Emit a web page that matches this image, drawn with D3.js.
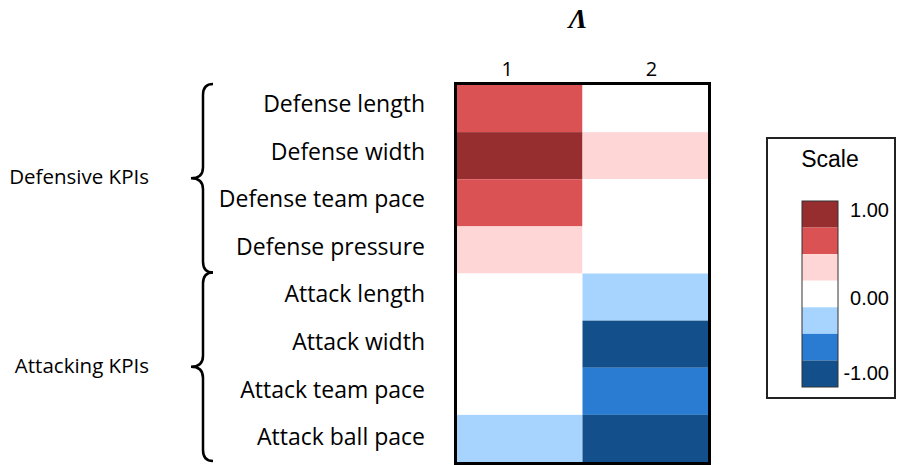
<!DOCTYPE html>
<html>
<head>
<meta charset="utf-8">
<script src="https://cdn.jsdelivr.net/npm/d3@7/dist/d3.min.js"></script>
<style>
  html, body { margin: 0; padding: 0; background: #fff; }
  svg { display: block; }
</style>
</head>
<body>
<svg id="chart" width="897" height="465"></svg>
<script>
// KPI rows, top to bottom
const kpis = [
  "Defense length", "Defense width", "Defense team pace", "Defense pressure",
  "Attack length", "Attack width", "Attack team pace", "Attack ball pace"
];
const columns = ["1", "2"];
// Loadings per column, one value per KPI row
const column1 = [0.67, 1.00, 0.67, 0.33, 0.00, 0.00, 0.00, -0.33];
const column2 = [0.00, 0.33, 0.00, 0.00, -0.33, -1.00, -0.67, -1.00];
const groups = [
  { name: "Defensive KPIs", first: "Defense length", last: "Defense pressure" },
  { name: "Attacking KPIs", first: "Attack length", last: "Attack ball pace" }
];
const paletteColors = ["#124f8b", "#2a7bd2", "#a6d4fe", "#ffffff", "#ffd6d6", "#da5254", "#962d2f"];
const legendTicks = [1, 0, -1];
const titleText = "\u039B";

const svg = d3.select("#chart");
const cells = [];
[column1, column2].forEach((vals, ci) => {
  vals.forEach((v, ri) => cells.push({ col: columns[ci], row: kpis[ri], value: v }));
});

const x = d3.scaleBand().domain(columns).range([457, 708]);
const y = d3.scaleBand().domain(kpis).range([85, 462]);
// Row labels are spaced on their own slightly taller band
const yLabel = d3.scaleBand().domain(kpis).range([80.5, 461.5]);
const color = d3.scaleQuantize().domain([-1, 1]).range(paletteColors);

// Title
svg.append("text")
  .attr("x", 578).attr("y", 28)
  .attr("text-anchor", "middle")
  .style("font-family", "'Liberation Serif', 'DejaVu Serif', serif")
  .style("font-style", "italic").style("font-weight", "bold")
  .style("font-size", "28px")
  .text(titleText);

// Heatmap cells
svg.append("g").selectAll("rect")
  .data(cells).join("rect")
  .attr("x", d => x(d.col))
  .attr("y", d => y(d.row))
  .attr("width", x.bandwidth())
  .attr("height", y.bandwidth())
  .attr("fill", d => color(d.value));

// Frame
svg.append("rect")
  .attr("x", x.range()[0] - 1.5).attr("y", y.range()[0] - 1.5)
  .attr("width", x.range()[1] - x.range()[0] + 3)
  .attr("height", y.range()[1] - y.range()[0] + 3)
  .attr("fill", "none").attr("stroke", "#000").attr("stroke-width", 3);

// Column headers
const headerShift = { "1": -0.1, "2": 0.05 };
svg.append("g").selectAll("text")
  .data(columns).join("text")
  .attr("x", d => x(d) + x.bandwidth() * (0.5 + headerShift[d]))
  .attr("y", 76)
  .attr("text-anchor", "middle")
  .style("font-family", "'Open Sans', sans-serif")
  .style("font-size", "20px")
  .text(d => d);

// Row labels
svg.append("g").selectAll("text")
  .data(kpis).join("text")
  .attr("x", 425)
  .attr("y", d => yLabel(d) + yLabel.bandwidth() / 2)
  .attr("dy", "0.33em")
  .attr("text-anchor", "end")
  .style("font-family", "'Open Sans', sans-serif")
  .style("font-size", "23px")
  .text(d => d);

// Group braces and labels
const xv = 203, xt = 191, xe = 213, r = 11;
function bracePath(y0, y1) {
  const ym = (y0 + y1) / 2;
  return `M${xe},${y0} Q${xv},${y0} ${xv},${y0 + r} L${xv},${ym - r} Q${xv},${ym} ${xt},${ym} ` +
         `Q${xv},${ym} ${xv},${ym + r} L${xv},${y1 - r} Q${xv},${y1} ${xe},${y1}`;
}
const gg = svg.append("g");
groups.forEach(g => {
  const y0 = y(g.first) - 1, y1 = y(g.last) + y.bandwidth() - 1;
  gg.append("path")
    .attr("d", bracePath(y0, y1))
    .attr("fill", "none").attr("stroke", "#000").attr("stroke-width", 2.5);
  gg.append("text")
    .attr("x", 149).attr("y", (y0 + y1) / 2)
    .attr("dy", "0.3em")
    .attr("text-anchor", "end")
    .style("font-family", "'Open Sans', sans-serif")
    .style("font-size", "20.5px")
    .text(g.name);
});

// Legend
const legend = svg.append("g");
legend.append("rect")
  .attr("x", 767).attr("y", 138).attr("width", 128).attr("height", 260)
  .attr("fill", "#fff").attr("stroke", "#222").attr("stroke-width", 2);
legend.append("text")
  .attr("x", 830).attr("y", 167)
  .attr("text-anchor", "middle")
  .style("font-family", "'Liberation Sans', Arial, sans-serif")
  .style("font-size", "23px")
  .text("Scale");
const swatches = paletteColors.slice().reverse();
const ly = d3.scaleBand().domain(d3.range(swatches.length)).range([201, 387]);
legend.selectAll("rect.sw")
  .data(swatches).join("rect").attr("class", "sw")
  .attr("x", 802).attr("y", (d, i) => ly(i))
  .attr("width", 36).attr("height", ly.bandwidth())
  .attr("fill", d => d);
legend.append("rect")
  .attr("x", 802).attr("y", 201).attr("width", 36).attr("height", 186)
  .attr("fill", "none").attr("stroke", "#333").attr("stroke-width", 1);
const tickIndex = v => swatches.indexOf(color(v));
const tickNudge = { "1": -4, "0": 4, "-1": -1 };
legend.selectAll("text.tick")
  .data(legendTicks).join("text").attr("class", "tick")
  .attr("x", 889)
  .attr("y", d => ly(tickIndex(d)) + ly.bandwidth() / 2 + tickNudge[d])
  .attr("dy", "0.35em")
  .attr("text-anchor", "end")
  .style("font-family", "'Liberation Sans', Arial, sans-serif")
  .style("font-size", "20px")
  .text(d => d3.format(".2f")(d).replace("\u2212", "-"));
</script>
</body>
</html>
